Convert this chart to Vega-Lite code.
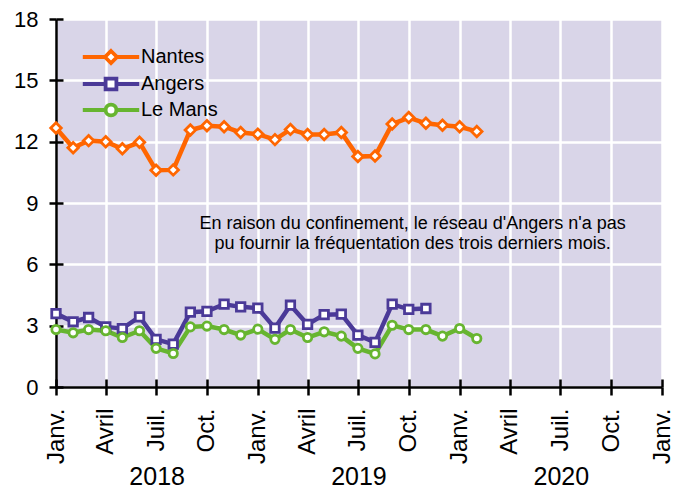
{
  "$schema": "https://vega.github.io/schema/vega-lite/v6.json",
  "width": 606,
  "height": 368,
  "autosize": "none",
  "padding": {"left": 56, "top": 19, "right": 27, "bottom": 103},
  "background": "white",
  "config": {
    "view": {"fill": "#d9d5e8", "stroke": null},
    "font": "Liberation Sans",
    "axis": {"labelFont": "Liberation Sans", "labelColor": "black", "domainColor": "black", "tickColor": "black", "gridColor": "white", "gridOpacity": 1, "gridWidth": 2.5, "domainWidth": 2.5, "tickWidth": 2.5, "title": null}
  },
  "datasets": {
    "series": [
      {"date": "2018-01-01", "city": "Nantes", "value": 12.67},
      {"date": "2018-02-01", "city": "Nantes", "value": 11.7},
      {"date": "2018-03-01", "city": "Nantes", "value": 12.05},
      {"date": "2018-04-01", "city": "Nantes", "value": 12.0},
      {"date": "2018-05-01", "city": "Nantes", "value": 11.65},
      {"date": "2018-06-01", "city": "Nantes", "value": 11.97},
      {"date": "2018-07-01", "city": "Nantes", "value": 10.6},
      {"date": "2018-08-01", "city": "Nantes", "value": 10.62},
      {"date": "2018-09-01", "city": "Nantes", "value": 12.57},
      {"date": "2018-10-01", "city": "Nantes", "value": 12.78},
      {"date": "2018-11-01", "city": "Nantes", "value": 12.73},
      {"date": "2018-12-01", "city": "Nantes", "value": 12.45},
      {"date": "2019-01-01", "city": "Nantes", "value": 12.37},
      {"date": "2019-02-01", "city": "Nantes", "value": 12.1},
      {"date": "2019-03-01", "city": "Nantes", "value": 12.6},
      {"date": "2019-04-01", "city": "Nantes", "value": 12.35},
      {"date": "2019-05-01", "city": "Nantes", "value": 12.35},
      {"date": "2019-06-01", "city": "Nantes", "value": 12.45},
      {"date": "2019-07-01", "city": "Nantes", "value": 11.27},
      {"date": "2019-08-01", "city": "Nantes", "value": 11.3},
      {"date": "2019-09-01", "city": "Nantes", "value": 12.86},
      {"date": "2019-10-01", "city": "Nantes", "value": 13.18},
      {"date": "2019-11-01", "city": "Nantes", "value": 12.9},
      {"date": "2019-12-01", "city": "Nantes", "value": 12.8},
      {"date": "2020-01-01", "city": "Nantes", "value": 12.73},
      {"date": "2020-02-01", "city": "Nantes", "value": 12.5},
      {"date": "2018-01-01", "city": "Angers", "value": 3.59},
      {"date": "2018-02-01", "city": "Angers", "value": 3.19},
      {"date": "2018-03-01", "city": "Angers", "value": 3.4},
      {"date": "2018-04-01", "city": "Angers", "value": 2.94},
      {"date": "2018-05-01", "city": "Angers", "value": 2.86},
      {"date": "2018-06-01", "city": "Angers", "value": 3.43},
      {"date": "2018-07-01", "city": "Angers", "value": 2.33},
      {"date": "2018-08-01", "city": "Angers", "value": 2.1},
      {"date": "2018-09-01", "city": "Angers", "value": 3.66},
      {"date": "2018-10-01", "city": "Angers", "value": 3.7},
      {"date": "2018-11-01", "city": "Angers", "value": 4.05},
      {"date": "2018-12-01", "city": "Angers", "value": 3.92},
      {"date": "2019-01-01", "city": "Angers", "value": 3.86},
      {"date": "2019-02-01", "city": "Angers", "value": 2.88},
      {"date": "2019-03-01", "city": "Angers", "value": 4.0},
      {"date": "2019-04-01", "city": "Angers", "value": 3.06},
      {"date": "2019-05-01", "city": "Angers", "value": 3.54},
      {"date": "2019-06-01", "city": "Angers", "value": 3.56},
      {"date": "2019-07-01", "city": "Angers", "value": 2.54},
      {"date": "2019-08-01", "city": "Angers", "value": 2.18},
      {"date": "2019-09-01", "city": "Angers", "value": 4.05},
      {"date": "2019-10-01", "city": "Angers", "value": 3.8},
      {"date": "2019-11-01", "city": "Angers", "value": 3.84},
      {"date": "2018-01-01", "city": "Le Mans", "value": 2.81},
      {"date": "2018-02-01", "city": "Le Mans", "value": 2.65},
      {"date": "2018-03-01", "city": "Le Mans", "value": 2.81},
      {"date": "2018-04-01", "city": "Le Mans", "value": 2.75},
      {"date": "2018-05-01", "city": "Le Mans", "value": 2.42},
      {"date": "2018-06-01", "city": "Le Mans", "value": 2.75},
      {"date": "2018-07-01", "city": "Le Mans", "value": 1.89},
      {"date": "2018-08-01", "city": "Le Mans", "value": 1.64},
      {"date": "2018-09-01", "city": "Le Mans", "value": 2.94},
      {"date": "2018-10-01", "city": "Le Mans", "value": 2.98},
      {"date": "2018-11-01", "city": "Le Mans", "value": 2.81},
      {"date": "2018-12-01", "city": "Le Mans", "value": 2.54},
      {"date": "2019-01-01", "city": "Le Mans", "value": 2.83},
      {"date": "2019-02-01", "city": "Le Mans", "value": 2.33},
      {"date": "2019-03-01", "city": "Le Mans", "value": 2.81},
      {"date": "2019-04-01", "city": "Le Mans", "value": 2.42},
      {"date": "2019-05-01", "city": "Le Mans", "value": 2.7},
      {"date": "2019-06-01", "city": "Le Mans", "value": 2.49},
      {"date": "2019-07-01", "city": "Le Mans", "value": 1.89},
      {"date": "2019-08-01", "city": "Le Mans", "value": 1.62},
      {"date": "2019-09-01", "city": "Le Mans", "value": 3.02},
      {"date": "2019-10-01", "city": "Le Mans", "value": 2.81},
      {"date": "2019-11-01", "city": "Le Mans", "value": 2.81},
      {"date": "2019-12-01", "city": "Le Mans", "value": 2.49},
      {"date": "2020-01-01", "city": "Le Mans", "value": 2.86},
      {"date": "2020-02-01", "city": "Le Mans", "value": 2.37}
    ],
    "note": [
      {"date": "2019-10-08", "value": 7.73, "label": "En raison du confinement, le réseau d'Angers n'a pas\npu fournir la fréquentation des trois derniers mois."}
    ]
  },
  "layer": [
    {
      "data": {"name": "series"},
      "mark": {"type": "line", "strokeWidth": 4.5},
      "encoding": {
        "x": {
          "field": "date", "type": "temporal",
          "scale": {"type": "utc", "domain": [{"year": 2018, "month": 1, "date": 1, "utc": true}, {"year": 2021, "month": 1, "date": 1, "utc": true}]},
          "axis": {
            "orient": "bottom",
            "values": [
              {"year": 2018, "month": 1, "date": 1, "utc": true}, {"year": 2018, "month": 4, "date": 1, "utc": true}, {"year": 2018, "month": 7, "date": 1, "utc": true}, {"year": 2018, "month": 10, "date": 1, "utc": true},
              {"year": 2019, "month": 1, "date": 1, "utc": true}, {"year": 2019, "month": 4, "date": 1, "utc": true}, {"year": 2019, "month": 7, "date": 1, "utc": true}, {"year": 2019, "month": 10, "date": 1, "utc": true},
              {"year": 2020, "month": 1, "date": 1, "utc": true}, {"year": 2020, "month": 4, "date": 1, "utc": true}, {"year": 2020, "month": 7, "date": 1, "utc": true}, {"year": 2020, "month": 10, "date": 1, "utc": true},
              {"year": 2021, "month": 1, "date": 1, "utc": true}
            ],
            "labelExpr": "utcmonth(datum.value) == 0 ? 'Janv.' : utcmonth(datum.value) == 3 ? 'Avril' : utcmonth(datum.value) == 6 ? 'Juil.' : 'Oct.'",
            "labelAngle": 270, "labelAlign": "right", "labelBaseline": "middle",
            "labelFontSize": 24, "labelPadding": 13, "tickSize": 8,
            "grid": true, "labelOverlap": false, "labelBound": false, "labelFlush": false
          }
        },
        "y": {
          "field": "value", "type": "quantitative",
          "scale": {"domain": [0, 18], "nice": false, "zero": true},
          "axis": {"orient": "left", "values": [0, 3, 6, 9, 12, 15, 18], "labelFontSize": 22, "tickSize": 7, "labelPadding": 11, "grid": true, "labelOverlap": false}
        },
        "color": {
          "field": "city", "type": "nominal",
          "scale": {"domain": ["Nantes", "Angers", "Le Mans"], "range": ["#ff6600", "#4b3a98", "#67b530"]},
          "legend": {
            "title": null, "orient": "none", "legendX": 45, "legendY": 28, "padding": 0,
            "labelFontSize": 20, "labelFont": "Liberation Sans", "labelColor": "black",
            "labelOffset": 20, "rowPadding": 0, "symbolSize": 144, "symbolStrokeWidth": 3.5,
            "encode": {
              "symbols": {
                "update": {
                  "shape": {"signal": "datum.value === 'Nantes' ? 'M-4.7,0H-1M1,0H4.7M0,-1L1,0L0,1L-1,0Z' : datum.value === 'Angers' ? 'M-4.7,0H-0.9M0.9,0H4.7M-0.9,-0.9H0.9V0.9H-0.9Z' : 'M-4.7,0H-0.9M0.9,0H4.7M0.9,0A0.9,0.9,0,1,1,-0.9,0A0.9,0.9,0,1,1,0.9,0Z'"},
                  "fill": {"value": "white"},
                  "fillOpacity": {"value": 1},
                  "stroke": {"scale": "color", "field": "value"},
                  "strokeWidth": {"value": 3.8},
                  "size": {"value": 144},
                  "opacity": {"value": 1}
                }
              }
            }
          }
        }
      }
    },
    {
      "data": {"name": "series"},
      "transform": [{"filter": "datum.city === 'Nantes'"}],
      "mark": {"type": "point", "shape": "diamond", "size": 110, "filled": false, "fill": "white", "fillOpacity": 1, "opacity": 1, "strokeWidth": 2.8},
      "encoding": {
        "x": {
          "field": "date", "type": "temporal",
          "axis": {
            "orient": "bottom",
            "values": [{"year": 2018, "month": 7, "date": 2, "utc": true}, {"year": 2019, "month": 7, "date": 2, "utc": true}, {"year": 2020, "month": 7, "date": 2, "utc": true}],
            "labelExpr": "'' + utcyear(datum.value)",
            "labelFontSize": 25, "labelBaseline": "alphabetic", "labelPadding": 97, "ticks": false, "tickSize": 0, "domain": false, "grid": false, "labelOverlap": false
          }
        },
        "y": {
          "field": "value", "type": "quantitative",
          "axis": {"orient": "left", "values": [0, 3, 6, 9, 12, 15, 18], "tickSize": -7, "labels": false, "domain": false, "grid": false}
        },
        "color": {"field": "city", "type": "nominal", "legend": null}
      }
    },
    {
      "data": {"name": "series"},
      "transform": [{"filter": "datum.city === 'Angers'"}],
      "mark": {"type": "point", "shape": "square", "size": 72, "filled": false, "fill": "white", "fillOpacity": 1, "opacity": 1, "strokeWidth": 2.8},
      "encoding": {
        "x": {"field": "date", "type": "temporal", "axis": null},
        "y": {"field": "value", "type": "quantitative", "axis": null},
        "color": {"field": "city", "type": "nominal", "legend": null}
      }
    },
    {
      "data": {"name": "series"},
      "transform": [{"filter": "datum.city === 'Le Mans'"}],
      "mark": {"type": "point", "shape": "circle", "size": 70, "filled": false, "fill": "white", "fillOpacity": 1, "opacity": 1, "strokeWidth": 2.8},
      "encoding": {
        "x": {"field": "date", "type": "temporal", "axis": null},
        "y": {"field": "value", "type": "quantitative", "axis": null},
        "color": {"field": "city", "type": "nominal", "legend": null}
      }
    },
    {
      "data": {"name": "note"},
      "mark": {"type": "text", "fontSize": 18, "font": "Liberation Sans", "color": "black", "align": "center", "baseline": "alphabetic", "lineBreak": "\n", "lineHeight": 20},
      "encoding": {
        "x": {
          "field": "date", "type": "temporal",
          "axis": {
            "orient": "bottom",
            "values": [
              {"year": 2018, "month": 1, "date": 1, "utc": true}, {"year": 2018, "month": 4, "date": 1, "utc": true}, {"year": 2018, "month": 7, "date": 1, "utc": true}, {"year": 2018, "month": 10, "date": 1, "utc": true},
              {"year": 2019, "month": 1, "date": 1, "utc": true}, {"year": 2019, "month": 4, "date": 1, "utc": true}, {"year": 2019, "month": 7, "date": 1, "utc": true}, {"year": 2019, "month": 10, "date": 1, "utc": true},
              {"year": 2020, "month": 1, "date": 1, "utc": true}, {"year": 2020, "month": 4, "date": 1, "utc": true}, {"year": 2020, "month": 7, "date": 1, "utc": true}, {"year": 2020, "month": 10, "date": 1, "utc": true},
              {"year": 2021, "month": 1, "date": 1, "utc": true}
            ],
            "tickSize": -8, "labels": false, "domain": false, "grid": false
          }
        },
        "y": {"field": "value", "type": "quantitative", "axis": null},
        "text": {"field": "label", "type": "nominal"}
      }
    }
  ],
  "resolve": {"axis": {"x": "independent", "y": "independent"}}
}
